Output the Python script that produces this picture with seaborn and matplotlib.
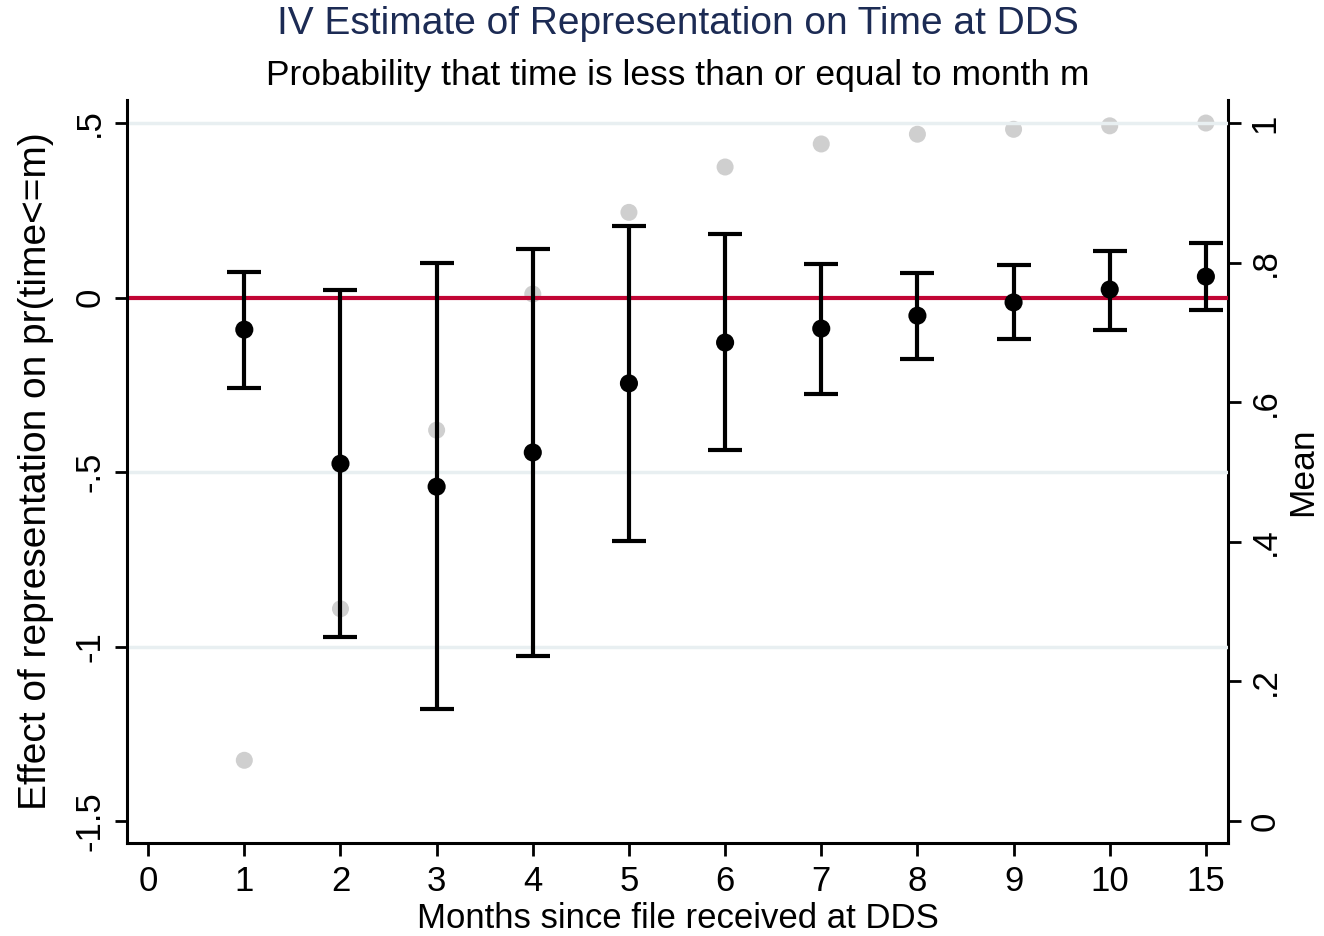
import numpy as np
import pandas as pd
import matplotlib
matplotlib.use("Agg")
import matplotlib.pyplot as plt
import seaborn as sns

# ---- data ----
tick_labels = ["0", "1", "2", "3", "4", "5", "6", "7", "8", "9", "10", "15"]
months = ["1", "2", "3", "4", "5", "6", "7", "8", "9", "10", "15"]
estimate = [-0.092, -0.476, -0.542, -0.444, -0.246, -0.129, -0.089, -0.052, -0.014, 0.023, 0.060]
ci_low = [-0.258, -0.974, -1.178, -1.026, -0.699, -0.438, -0.275, -0.175, -0.120, -0.092, -0.037]
ci_high = [0.072, 0.023, 0.100, 0.140, 0.206, 0.183, 0.095, 0.069, 0.092, 0.132, 0.155]
mean_cdf = [0.087, 0.304, 0.560, 0.755, 0.872, 0.937, 0.970, 0.984, 0.991, 0.996, 1.000]

left_ticks = [-1.5, -1.0, -0.5, 0.0, 0.5]
left_ticklabels = ["-1.5", "-1", "-.5", "0", ".5"]
right_ticks = [0, 0.2, 0.4, 0.6, 0.8, 1.0]
right_ticklabels = ["0", ".2", ".4", ".6", ".8", "1"]

sns.set_theme(style="white")
plt.rcParams["font.family"] = ["Liberation Sans", "DejaVu Sans"]

pos = [tick_labels.index(m) for m in months]
df = pd.DataFrame({"pos": pos, "est": estimate, "lo": ci_low, "hi": ci_high, "mean": mean_cdf})

fig = plt.figure(figsize=(13.24, 9.36), dpi=100)
ax = fig.add_axes([127 / 1324, 1 - 843 / 936, (1228 - 127) / 1324, (843 - 100) / 936])
ax2 = ax.twinx()
ax.set_zorder(ax2.get_zorder() + 1)
ax.patch.set_visible(False)
ax2.patch.set_facecolor("white")

# right axis: mean (gray dots)
sns.scatterplot(data=df, x="pos", y="mean", ax=ax2, color="#cfcfcf", s=150,
                edgecolor="none", zorder=2, legend=False)

# grid lines
for t in [0.5, -0.5, -1.0]:
    ax.axhline(t, color="#e8eff1", lw=2.5, zorder=0)
# zero line
ax.axhline(0, color="#c10534", lw=3, zorder=1)

# error bars and estimates
ax.errorbar(df["pos"], df["est"], yerr=[df["est"] - df["lo"], df["hi"] - df["est"]],
            fmt="none", ecolor="black", elinewidth=3, capsize=12, capthick=3, zorder=3)
sns.scatterplot(data=df, x="pos", y="est", ax=ax, color="black", s=170,
                edgecolor="none", zorder=4, legend=False)

ax.set_xlim(-0.22, 11.23)
ax.set_ylim(-1.563, 0.566)
ax2.set_ylim(-0.0315, 1.033)

ax.set_xticks(range(len(tick_labels)))
ax.set_xticklabels(tick_labels)
ax.set_yticks(left_ticks)
ax.set_yticklabels(left_ticklabels, rotation=90, va="center")
ax2.set_yticks(right_ticks)
ax2.set_yticklabels(right_ticklabels, rotation=90, va="center")

for a in (ax, ax2):
    for s in a.spines.values():
        s.set_linewidth(2.2)
        s.set_color("black")
    a.spines["top"].set_visible(False)
ax.spines["right"].set_visible(False)
ax2.spines["left"].set_visible(False)
ax2.spines["bottom"].set_visible(False)

ax.tick_params(axis="x", length=9, width=2, colors="black", labelsize=25, pad=7, bottom=True)
ax.tick_params(axis="y", length=9, width=2, colors="black", labelsize=25, pad=6, left=True)
ax2.tick_params(axis="y", length=9, width=2, colors="black", labelsize=25, pad=6, right=True)

ax.set_xlabel("Months since file received at DDS", fontsize=25, color="black", labelpad=3)
ax.set_ylabel("Effect of representation on pr(time<=m)", fontsize=28, color="black", labelpad=14)
ax2.set_ylabel("Mean", fontsize=25.5, color="black", rotation=90, labelpad=3)

fig.text(677.5 / 1324, 1 - 24 / 936, "IV Estimate of Representation on Time at DDS",
         ha="center", va="center", fontsize=28, color="#1c2b54")
fig.text(677.5 / 1324, 1 - 75 / 936, "Probability that time is less than or equal to month m",
         ha="center", va="center", fontsize=25.5, color="black")

fig.savefig("out.png", dpi=100, facecolor="white")
